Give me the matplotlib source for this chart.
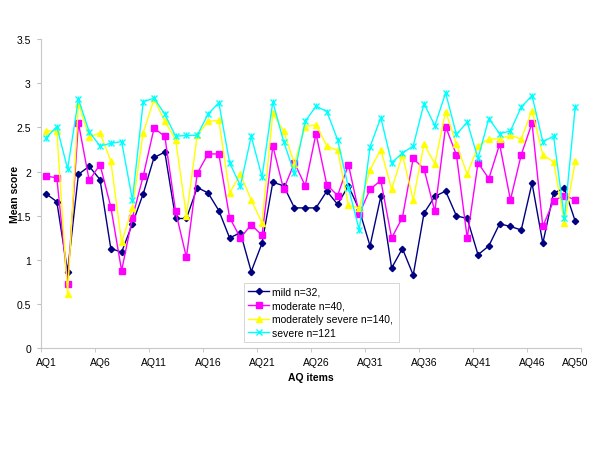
import numpy as np
import matplotlib
matplotlib.use("Agg")
import matplotlib.pyplot as plt

# AQ item numbers and mean scores per severity group
items = np.arange(1, 51)
tick_items = [1, 6, 11, 16, 21, 26, 31, 36, 41, 46, 50]
tick_labels = ["AQ%d" % i for i in tick_items]

mild = [1.75, 1.66, 0.87, 1.97, 2.06, 1.91, 1.13, 1.09, 1.41, 1.75,
        2.16, 2.22, 1.47, 1.47, 1.82, 1.76, 1.56, 1.25, 1.31, 0.87,
        1.19, 1.88, 1.84, 1.59, 1.59, 1.59, 1.78, 1.63, 1.84, 1.57,
        1.16, 1.72, 0.91, 1.13, 0.83, 1.53, 1.72, 1.78, 1.50, 1.47,
        1.06, 1.16, 1.41, 1.38, 1.34, 1.87, 1.19, 1.76, 1.81, 1.44]
moderate = [1.95, 1.93, 0.73, 2.55, 1.90, 2.08, 1.60, 0.88, 1.48, 1.95,
            2.49, 2.40, 1.55, 1.03, 1.98, 2.20, 2.20, 1.48, 1.25, 1.40,
            1.28, 2.29, 1.80, 2.10, 1.84, 2.43, 1.85, 1.73, 2.08, 1.52,
            1.80, 1.90, 1.25, 1.48, 2.15, 2.03, 1.55, 2.51, 2.19, 1.25,
            2.10, 1.92, 2.31, 1.68, 2.19, 2.55, 1.38, 1.67, 1.73, 1.68]
mod_severe = [2.46, 2.46, 0.62, 2.77, 2.39, 2.44, 2.12, 1.20, 1.59, 2.44,
              2.82, 2.57, 2.36, 1.50, 2.41, 2.57, 2.58, 1.76, 1.97, 1.68,
              1.42, 2.66, 2.46, 2.09, 2.51, 2.53, 2.29, 2.24, 1.62, 1.59,
              2.02, 2.25, 1.80, 2.19, 1.68, 2.31, 2.09, 2.68, 2.31, 1.97,
              2.29, 2.37, 2.37, 2.41, 2.37, 2.69, 2.19, 2.11, 1.42, 2.12]
severe = [2.38, 2.51, 2.03, 2.82, 2.45, 2.29, 2.32, 2.34, 1.68, 2.79,
          2.83, 2.65, 2.40, 2.41, 2.41, 2.65, 2.78, 2.10, 1.84, 2.40,
          1.94, 2.79, 2.34, 1.98, 2.57, 2.74, 2.68, 2.36, 1.82, 1.34,
          2.28, 2.61, 2.10, 2.21, 2.29, 2.77, 2.52, 2.89, 2.42, 2.56,
          2.15, 2.60, 2.43, 2.46, 2.73, 2.86, 2.34, 2.40, 1.47, 2.73]

labels = ["mild n=32,", "moderate n=40,", "moderately severe n=140,", "severe n=121"]

plt.rcParams["font.family"] = ["Liberation Sans", "DejaVu Sans"]
plt.rcParams["font.size"] = 7.5

fig = plt.figure(figsize=(6.0, 4.64), dpi=100)
ax = fig.add_axes([0.0677, 0.2468, 0.9, 0.667])

ax.plot(items, mild, "-D", color="#000080", lw=1, ms=3.2, label=labels[0])
ax.plot(items, moderate, "-s", color="#FF00FF", lw=1, ms=4.5, label=labels[1])
ax.plot(items, mod_severe, "-^", color="#FFFF00", lw=1, ms=5, label=labels[2])
ax.plot(items, severe, "-x", color="#00FFFF", lw=1, ms=5, mew=1, label=labels[3])
# excel "star" marker = x plus a vertical bar
ax.plot(items, severe, "|", color="#00FFFF", ms=5, mew=1)

ax.set_xlim(0.5, 50.5)
ax.set_ylim(0, 3.5)
ax.set_yticks(np.arange(0, 3.51, 0.5))
ax.set_yticklabels(["0", "0.5", "1", "1.5", "2", "2.5", "3", "3.5"])
ax.set_xticks(tick_items)
ax.set_xticklabels(tick_labels)
ax.set_xticks(np.arange(0.5, 51, 5), minor=True)
ax.tick_params(axis="x", which="major", length=0, pad=6)
ax.tick_params(axis="x", which="minor", length=3, color="#c0c0c0")
ax.tick_params(axis="y", length=3, color="#c0c0c0", pad=4)

for side in ["top", "right"]:
    ax.spines[side].set_visible(False)
for side in ["left", "bottom"]:
    ax.spines[side].set_color("#c8c8c8")
    ax.spines[side].set_linewidth(0.8)

ax.set_xlabel("AQ items", fontweight="bold", labelpad=4)
ax.set_ylabel("Mean score", fontweight="bold")
ax.yaxis.set_label_coords(-0.038, 0.5)

leg = ax.legend(loc="lower left", bbox_to_anchor=(0.377, 0.021, 0.287, 0.197),
                mode="expand", fancybox=False, framealpha=1, edgecolor="#d0d0d0",
                handlelength=2.0, handletextpad=0.3, labelspacing=0.35,
                borderpad=0.4, borderaxespad=0)
leg.get_frame().set_linewidth(0.6)

fig.savefig("out.png", dpi=100)
